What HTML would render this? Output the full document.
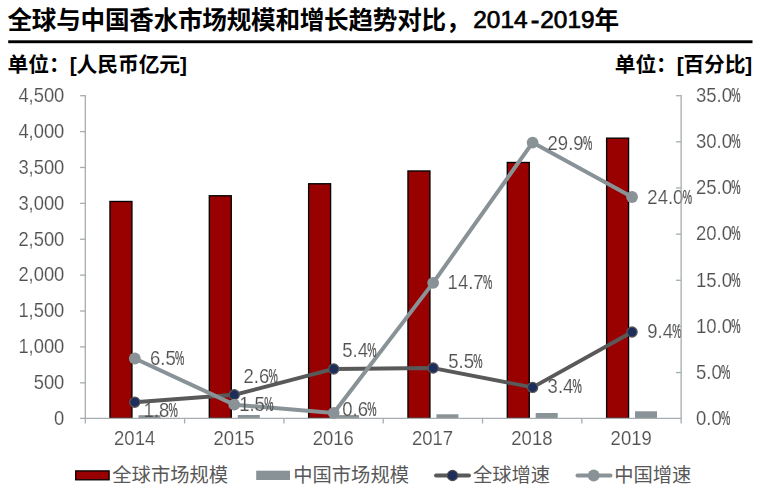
<!DOCTYPE html>
<html><head><meta charset="utf-8"><title>chart</title>
<style>html,body{margin:0;padding:0;background:#fff;}body{width:761px;height:491px;overflow:hidden;font-family:"Liberation Sans",sans-serif;}svg{display:block}</style>
</head><body>
<svg width="761" height="491" viewBox="0 0 761 491"><text x="7.5" y="29" font-family="&quot;Liberation Sans&quot;, &quot;Noto Sans CJK SC&quot;, sans-serif" font-size="24.6" font-weight="bold" fill="#000" textLength="463" lengthAdjust="spacing">全球与中国香水市场规模和增长趋势对比，</text>
<text x="473.3" y="28.4" font-family="Liberation Sans" font-size="24.4" fill="#000" stroke="#000" stroke-width="0.7">2014</text>
<text x="531" y="28.4" font-family="Liberation Sans" font-size="24.4" fill="#000" stroke="#000" stroke-width="1.0">-</text>
<text x="540.3" y="28.4" font-family="Liberation Sans" font-size="24.4" fill="#000" stroke="#000" stroke-width="0.7">2019</text>
<text x="594.5" y="29" font-family="&quot;Liberation Sans&quot;, &quot;Noto Sans CJK SC&quot;, sans-serif" font-size="24.6" font-weight="bold" fill="#000">年</text>
<rect x="8.2" y="40.3" width="744.3" height="2.9" fill="#000"/>
<text x="7.5" y="72.3" font-family="&quot;Liberation Sans&quot;, &quot;Noto Sans CJK SC&quot;, sans-serif" font-size="20.8" font-weight="bold" fill="#000" textLength="179.5" lengthAdjust="spacing">单位：[人民币亿元]</text>
<text x="614.8" y="72.3" font-family="&quot;Liberation Sans&quot;, &quot;Noto Sans CJK SC&quot;, sans-serif" font-size="20.8" font-weight="bold" fill="#000" textLength="137.5" lengthAdjust="spacing">单位：[百分比]</text>
<rect x="109.97" y="201.47" width="21.97" height="216.84" fill="#990000" stroke="#000" stroke-width="1.33"/>
<rect x="138.50" y="415.20" width="22" height="3.10" fill="#899296"/>
<rect x="209.29" y="195.76" width="21.97" height="222.54" fill="#990000" stroke="#000" stroke-width="1.33"/>
<rect x="237.80" y="415.00" width="22" height="3.30" fill="#899296"/>
<rect x="308.62" y="183.76" width="21.97" height="234.54" fill="#990000" stroke="#000" stroke-width="1.33"/>
<rect x="337.10" y="415.10" width="22" height="3.20" fill="#899296"/>
<rect x="407.96" y="170.97" width="21.97" height="247.34" fill="#990000" stroke="#000" stroke-width="1.33"/>
<rect x="436.40" y="414.30" width="22" height="4.00" fill="#899296"/>
<rect x="507.29" y="162.47" width="21.97" height="255.84" fill="#990000" stroke="#000" stroke-width="1.33"/>
<rect x="535.70" y="413.00" width="22" height="5.30" fill="#899296"/>
<rect x="606.61" y="138.16" width="21.97" height="280.13" fill="#990000" stroke="#000" stroke-width="1.33"/>
<rect x="635.00" y="411.30" width="22" height="7.00" fill="#899296"/>
<g stroke="#a6acb0" stroke-width="1.3" fill="none">
<path d="M85.3 95.1V418.3M80.1 418.3H681.15"/>
<path d="M80.1 95.70H85.3"/>
<path d="M80.1 131.59H85.3"/>
<path d="M80.1 167.48H85.3"/>
<path d="M80.1 203.37H85.3"/>
<path d="M80.1 239.26H85.3"/>
<path d="M80.1 275.14H85.3"/>
<path d="M80.1 311.03H85.3"/>
<path d="M80.1 346.92H85.3"/>
<path d="M80.1 382.81H85.3"/>
<path d="M675.9499999999999 95.70H681.15"/>
<path d="M675.9499999999999 141.84H681.15"/>
<path d="M675.9499999999999 187.99H681.15"/>
<path d="M675.9499999999999 234.13H681.15"/>
<path d="M675.9499999999999 280.27H681.15"/>
<path d="M675.9499999999999 326.41H681.15"/>
<path d="M675.9499999999999 372.56H681.15"/>
<path d="M85.30 418.3V423.5"/>
<path d="M184.61 418.3V423.5"/>
<path d="M283.92 418.3V423.5"/>
<path d="M383.23 418.3V423.5"/>
<path d="M482.53 418.3V423.5"/>
<path d="M581.84 418.3V423.5"/>
<path d="M681.15 418.3V423.5"/>
</g>
<polyline points="134.80,402.19 234.25,394.81 333.70,368.97 433.15,368.04 532.60,387.42 632.05,332.05" fill="none" stroke="#595959" stroke-width="3.9" stroke-linejoin="round" stroke-linecap="round"/>
<circle cx="134.80" cy="402.19" r="5.1" fill="#1d2e5a" stroke="#585858" stroke-width="1.2"/>
<circle cx="234.25" cy="394.81" r="5.1" fill="#1d2e5a" stroke="#585858" stroke-width="1.2"/>
<circle cx="333.70" cy="368.97" r="5.1" fill="#1d2e5a" stroke="#585858" stroke-width="1.2"/>
<circle cx="433.15" cy="368.04" r="5.1" fill="#1d2e5a" stroke="#585858" stroke-width="1.2"/>
<circle cx="532.60" cy="387.42" r="5.1" fill="#1d2e5a" stroke="#585858" stroke-width="1.2"/>
<circle cx="632.05" cy="332.05" r="5.1" fill="#1d2e5a" stroke="#585858" stroke-width="1.2"/>
<polyline points="134.80,358.51 234.25,404.66 333.70,412.96 433.15,282.84 532.60,142.57 632.05,197.01" fill="none" stroke="#899296" stroke-width="4" stroke-linejoin="round" stroke-linecap="round"/>
<circle cx="134.80" cy="358.51" r="5.9" fill="#899296"/>
<circle cx="234.25" cy="404.66" r="5.9" fill="#899296"/>
<circle cx="333.70" cy="412.96" r="5.9" fill="#899296"/>
<circle cx="433.15" cy="282.84" r="5.9" fill="#899296"/>
<circle cx="532.60" cy="142.57" r="5.9" fill="#899296"/>
<circle cx="632.05" cy="197.01" r="5.9" fill="#899296"/>
<rect x="75.7" y="470.9" width="33.4" height="8.9" fill="#990000" stroke="#000" stroke-width="1.3"/>
<text x="112.3" y="482.2" font-family="&quot;Liberation Sans&quot;, &quot;Noto Sans CJK SC&quot;, sans-serif" font-size="19.3" fill="#585858" textLength="115.8" lengthAdjust="spacing">全球市场规模</text>
<rect x="256.2" y="470.7" width="33.8" height="9.3" fill="#899296"/>
<text x="293.2" y="482.2" font-family="&quot;Liberation Sans&quot;, &quot;Noto Sans CJK SC&quot;, sans-serif" font-size="19.3" fill="#585858" textLength="115.8" lengthAdjust="spacing">中国市场规模</text>
<path d="M436 475.5H469" stroke="#595959" stroke-width="3.9" stroke-linecap="round"/>
<circle cx="452.5" cy="475.5" r="5.1" fill="#1d2e5a" stroke="#4d4d4d" stroke-width="1.2"/>
<text x="473.1" y="482.2" font-family="&quot;Liberation Sans&quot;, &quot;Noto Sans CJK SC&quot;, sans-serif" font-size="19.3" fill="#585858" textLength="77" lengthAdjust="spacing">全球增速</text>
<path d="M577.5 475.5H610.5" stroke="#899296" stroke-width="4" stroke-linecap="round"/>
<circle cx="593.7" cy="475.5" r="5.9" fill="#899296"/>
<text x="614.3" y="482.2" font-family="&quot;Liberation Sans&quot;, &quot;Noto Sans CJK SC&quot;, sans-serif" font-size="19.3" fill="#585858" textLength="77" lengthAdjust="spacing">中国增速</text>
<mask id="nm" maskUnits="userSpaceOnUse" x="0" y="0" width="761" height="491"><g font-family="Liberation Sans" font-size="18" fill="#fff" stroke="#000" stroke-width="0.22"><text transform="translate(64.3 102) scale(1.02 1.085)" text-anchor="end">4,500</text><text transform="translate(64.3 138) scale(1.02 1.085)" text-anchor="end">4,000</text><text transform="translate(64.3 174) scale(1.02 1.085)" text-anchor="end">3,500</text><text transform="translate(64.3 210) scale(1.02 1.085)" text-anchor="end">3,000</text><text transform="translate(64.3 246) scale(1.02 1.085)" text-anchor="end">2,500</text><text transform="translate(64.3 281) scale(1.02 1.085)" text-anchor="end">2,000</text><text transform="translate(64.3 317) scale(1.02 1.085)" text-anchor="end">1,500</text><text transform="translate(64.3 353) scale(1.02 1.085)" text-anchor="end">1,000</text><text transform="translate(64.3 389) scale(1.02 1.085)" text-anchor="end">500</text><text transform="translate(64.3 425) scale(1.02 1.085)" text-anchor="end">0</text><text transform="translate(696.00 102) scale(1.028 1.085)" text-anchor="start">35.0</text><text transform="translate(696.00 148) scale(1.028 1.085)" text-anchor="start">30.0</text><text transform="translate(696.00 194) scale(1.028 1.085)" text-anchor="start">25.0</text><text transform="translate(696.00 240) scale(1.028 1.085)" text-anchor="start">20.0</text><text transform="translate(696.00 287) scale(1.028 1.085)" text-anchor="start">15.0</text><text transform="translate(696.00 333) scale(1.028 1.085)" text-anchor="start">10.0</text><text transform="translate(696.00 379) scale(1.028 1.085)" text-anchor="start">5.0</text><text transform="translate(696.00 425) scale(1.028 1.085)" text-anchor="start">0.0</text><text transform="translate(134.65 445) scale(1.028 1.085)" text-anchor="middle">2014</text><text transform="translate(233.96 445) scale(1.028 1.085)" text-anchor="middle">2015</text><text transform="translate(333.27 445) scale(1.028 1.085)" text-anchor="middle">2016</text><text transform="translate(432.58 445) scale(1.028 1.085)" text-anchor="middle">2017</text><text transform="translate(531.89 445) scale(1.028 1.085)" text-anchor="middle">2018</text><text transform="translate(631.20 445) scale(1.028 1.085)" text-anchor="middle">2019</text><text transform="translate(150.06 365) scale(1.028 1.085)" text-anchor="start">6.5</text><text transform="translate(143.59 417) scale(1.028 1.085)" text-anchor="start">1.8</text><text transform="translate(243.57 383) scale(1.028 1.085)" text-anchor="start">2.6</text><text transform="translate(239.19 411) scale(1.028 1.085)" text-anchor="start">1.5</text><text transform="translate(342.26 357) scale(1.028 1.085)" text-anchor="start">5.4</text><text transform="translate(342.28 416) scale(1.028 1.085)" text-anchor="start">0.6</text><text transform="translate(447.59 289) scale(1.028 1.085)" text-anchor="start">14.7</text><text transform="translate(448.26 368) scale(1.028 1.085)" text-anchor="start">5.5</text><text transform="translate(547.57 150) scale(1.028 1.085)" text-anchor="start">29.9</text><text transform="translate(547.60 393) scale(1.028 1.085)" text-anchor="start">3.4</text><text transform="translate(647.37 204) scale(1.028 1.085)" text-anchor="start">24.0</text><text transform="translate(647.33 338) scale(1.028 1.085)" text-anchor="start">9.4</text></g><g font-family="Liberation Sans" font-size="18" fill="#fff" stroke="#fff" stroke-width="0.15"><text transform="translate(731.31 102) scale(0.58 1.085)">%</text><text transform="translate(731.31 148) scale(0.58 1.085)">%</text><text transform="translate(731.31 194) scale(0.58 1.085)">%</text><text transform="translate(731.31 240) scale(0.58 1.085)">%</text><text transform="translate(731.31 287) scale(0.58 1.085)">%</text><text transform="translate(731.31 333) scale(0.58 1.085)">%</text><text transform="translate(721.02 379) scale(0.58 1.085)">%</text><text transform="translate(721.02 425) scale(0.58 1.085)">%</text><text transform="translate(175.08 365) scale(0.58 1.085)">%</text><text transform="translate(168.61 417) scale(0.58 1.085)">%</text><text transform="translate(268.59 383) scale(0.58 1.085)">%</text><text transform="translate(264.21 411) scale(0.58 1.085)">%</text><text transform="translate(367.28 357) scale(0.58 1.085)">%</text><text transform="translate(367.30 416) scale(0.58 1.085)">%</text><text transform="translate(482.90 289) scale(0.58 1.085)">%</text><text transform="translate(473.28 368) scale(0.58 1.085)">%</text><text transform="translate(582.88 150) scale(0.58 1.085)">%</text><text transform="translate(572.62 393) scale(0.58 1.085)">%</text><text transform="translate(682.68 204) scale(0.58 1.085)">%</text><text transform="translate(672.36 338) scale(0.58 1.085)">%</text></g></mask>
<rect x="0" y="0" width="761" height="491" fill="#505050" mask="url(#nm)"/>
<path d="M681.15 95.1V418.90000000000003" stroke="#a6acb0" stroke-width="1.3" fill="none"/></svg>
</body></html>
